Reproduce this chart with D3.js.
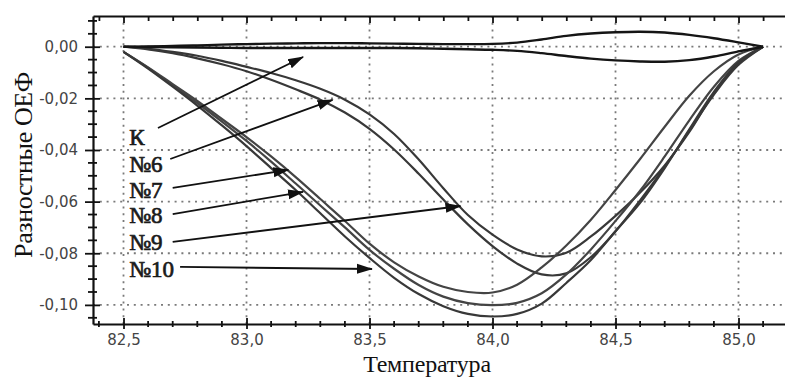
<!DOCTYPE html>
<html><head><meta charset="utf-8">
<script src="https://cdn.jsdelivr.net/npm/d3@7"></script>
<style>body{margin:0;background:#fff}svg{display:block}</style>
</head><body><svg id="chart" width="785" height="377"></svg>
<script>
// ---- DATA ----
const temps = [82.5,82.6,82.7,82.8,82.9,83.0,83.1,83.2,83.3,83.4,83.5,83.6,83.7,83.8,83.9,84.0,84.1,84.2,84.3,84.4,84.5,84.6,84.7,84.8,84.9,85.0,85.1];
const kUpper = [0,0.0001,0.0003,0.0005,0.0008,0.001,0.0012,0.0013,0.0014,0.0014,0.0013,0.0012,0.0011,0.001,0.001,0.0011,0.0016,0.0028,0.0042,0.0051,0.0056,0.0058,0.0055,0.0046,0.0033,0.0017,0];
const kLower = [0,-0.0001,-0.0002,-0.0003,-0.0004,-0.0005,-0.0005,-0.0005,-0.0005,-0.0005,-0.0005,-0.0005,-0.0006,-0.0008,-0.001,-0.0012,-0.0016,-0.0025,-0.0036,-0.0046,-0.0053,-0.0057,-0.0058,-0.0052,-0.0038,-0.0018,0];
const s6  = [0,-0.0008,-0.002,-0.0035,-0.0055,-0.0078,-0.0102,-0.013,-0.0163,-0.0205,-0.0262,-0.0338,-0.0437,-0.0548,-0.0652,-0.0728,-0.0785,-0.0812,-0.0798,-0.0735,-0.0655,-0.0565,-0.046,-0.033,-0.018,-0.0065,0];
const s9  = [0,-0.001,-0.0025,-0.0045,-0.0068,-0.0095,-0.0128,-0.0165,-0.0205,-0.0255,-0.0318,-0.0398,-0.0492,-0.0592,-0.0688,-0.0772,-0.084,-0.0882,-0.0878,-0.0815,-0.0715,-0.0595,-0.0465,-0.0325,-0.0185,-0.007,0];
const s7  = [-0.002,-0.008,-0.0145,-0.021,-0.028,-0.035,-0.0425,-0.0505,-0.059,-0.0675,-0.0763,-0.0835,-0.089,-0.093,-0.095,-0.0952,-0.0922,-0.0855,-0.077,-0.067,-0.0555,-0.0435,-0.031,-0.019,-0.0095,-0.003,0];
const s8  = [-0.002,-0.0082,-0.015,-0.0218,-0.029,-0.0365,-0.0445,-0.053,-0.0615,-0.07,-0.0787,-0.086,-0.0923,-0.0968,-0.0993,-0.1001,-0.0992,-0.0955,-0.0882,-0.0785,-0.0675,-0.0558,-0.0425,-0.0285,-0.0155,-0.0055,0];
const s10 = [-0.002,-0.0085,-0.0155,-0.0228,-0.0305,-0.0385,-0.047,-0.0555,-0.0645,-0.0735,-0.0818,-0.0895,-0.0958,-0.1005,-0.1035,-0.1045,-0.1035,-0.0995,-0.0915,-0.0826,-0.0715,-0.0605,-0.047,-0.032,-0.0175,-0.006,0];

const xMajor = [82.5,83.0,83.5,84.0,84.5,85.0];
const xLabels = ["82,5","83,0","83,5","84,0","84,5","85,0"];
const yMajor = [0,-0.02,-0.04,-0.06,-0.08,-0.10];
const yLabels = ["0,00","-0,02","-0,04","-0,06","-0,08","-0,10"];

const labelNames = ["К","№6","№7","№8","№9","№10"];
const labelT = [82.523,82.523,82.523,82.523,82.523,82.523];
const labelV = [-0.0381,-0.0485,-0.0586,-0.0682,-0.0787,-0.0892];
const arrowFrom = [[82.64,-0.0315],[82.69,-0.0435],[82.70,-0.0547],[82.70,-0.0648],[82.70,-0.0756],[82.73,-0.0853]];
const arrowTo = [[83.23,-0.004],[83.35,-0.0206],[83.17,-0.0477],[83.23,-0.0562],[83.87,-0.0617],[83.51,-0.0861]];

// ---- CHART ----
const SERIF = '"Liberation Serif"';
const SANS = '"DejaVu Sans"';
const svg = d3.select("#chart");
const x = d3.scaleLinear().domain([82.376, 85.189]).range([93, 785]);
const y = d3.scaleLinear().domain([-0.1074, 0.0119]).range([324, 16]);
const X0 = x.range()[0], X1 = x.range()[1], Y0 = y.range()[0], Y1 = y.range()[1];

const xMinor = d3.range(824, 852).map(d => d / 10);
const yMinor = d3.range(-21, 3).map(d => d * 0.005);
const isMajorX = d => xMajor.some(m => Math.abs(m - d) < 1e-6);
const isMajorY = d => yMajor.some(m => Math.abs(m - d) < 1e-6);

// grid
const grid = svg.append("g").attr("stroke", "#7a7a7a").attr("stroke-width", 1.8).attr("stroke-dasharray", "2,4.8");
grid.selectAll("line.v").data(xMajor).join("line").attr("class","v")
  .attr("x1", d => x(d)).attr("x2", d => x(d)).attr("y1", Y1).attr("y2", Y0);
grid.selectAll("line.h").data(yMajor).join("line").attr("class","h")
  .attr("y1", d => y(d)).attr("y2", d => y(d)).attr("x1", X0).attr("x2", X1);

// curves
const line = d3.line().x(d => x(d[0])).y(d => y(d[1])).curve(d3.curveCatmullRom.alpha(0.5));
const series = [
  {v: s6, c: "#383838", w: 2.2}, {v: s9, c: "#383838", w: 2.2},
  {v: s7, c: "#444", w: 2.2}, {v: s8, c: "#444", w: 2.2}, {v: s10, c: "#383838", w: 2.2},
  {v: kUpper, c: "#151515", w: 2.4}, {v: kLower, c: "#151515", w: 2.4}
];
svg.append("g").selectAll("path").data(series).join("path")
  .attr("fill", "none").attr("stroke", d => d.c).attr("stroke-width", d => d.w)
  .attr("d", d => line(temps.map((t, i) => [t, d.v[i]])));

// axes
const axisStyle = g => {
  g.attr("font-family", null);
  g.select(".domain").attr("stroke", "#111").attr("stroke-width", 2.2);
  g.selectAll(".tick line").attr("stroke", "#111").attr("stroke-width", 1.8);
  g.selectAll(".tick text").style("font-family", SANS).attr("font-size", 15).attr("fill", "#444");
};
const gx = svg.append("g").attr("transform", `translate(0,${Y0})`)
  .call(d3.axisBottom(x).tickValues(xMajor).tickFormat((d, i) => xLabels[i]).tickSizeOuter(0));
gx.selectAll(".tick line").attr("y1", -6).attr("y2", 5);
gx.selectAll(".tick text").attr("y", 10).attr("dy", "0.71em");
axisStyle(gx);
gx.selectAll("line.minor").data(xMinor.filter(d => !isMajorX(d))).join("line").attr("class","minor")
  .attr("x1", d => x(d)).attr("x2", d => x(d)).attr("y1", -3).attr("y2", 3).attr("stroke", "#111").attr("stroke-width", 1.8);

const gy = svg.append("g").attr("transform", `translate(${X0},0)`)
  .call(d3.axisLeft(y).tickValues(yMajor).tickFormat((d, i) => yLabels[i]).tickSizeOuter(0));
gy.selectAll(".tick line").attr("x1", -8).attr("x2", 7);
gy.selectAll(".tick text").attr("x", -15);
axisStyle(gy);
gy.selectAll("line.minor").data(yMinor.filter(d => !isMajorY(d))).join("line").attr("class","minor")
  .attr("y1", d => y(d)).attr("y2", d => y(d)).attr("x1", -5).attr("x2", 4).attr("stroke", "#111").attr("stroke-width", 1.8);

const gt = svg.append("g").attr("transform", `translate(0,${Y1})`)
  .call(d3.axisTop(x).tickValues(xMinor).tickFormat("").tickSizeOuter(0));
gt.selectAll(".tick line").attr("y1", 0).attr("y2", d => isMajorX(d) ? 7 : 5);
axisStyle(gt);

// annotations
svg.append("defs").append("marker").attr("id", "ah").attr("viewBox", "0 -6 16 12")
  .attr("refX", 15).attr("refY", 0).attr("markerWidth", 16).attr("markerHeight", 12)
  .attr("markerUnits", "userSpaceOnUse").attr("orient", "auto")
  .append("path").attr("d", "M0,-5L16,0L0,5Z").attr("fill", "#111");
svg.append("g").selectAll("line").data(arrowFrom).join("line")
  .attr("x1", d => x(d[0])).attr("y1", d => y(d[1]))
  .attr("x2", (d, i) => x(arrowTo[i][0])).attr("y2", (d, i) => y(arrowTo[i][1]))
  .attr("stroke", "#111").attr("stroke-width", 1.8).attr("marker-end", "url(#ah)");
svg.append("g").selectAll("text").data(labelNames).join("text")
  .style("font-family", SERIF)
  .attr("x", (d, i) => x(labelT[i])).attr("y", (d, i) => y(labelV[i]))
  .attr("font-size", 23).attr("fill", "#1a1a1a").attr("stroke", "#1a1a1a").attr("stroke-width", 0.7)
  .text(d => d);

// axis titles
svg.append("text").style("font-family", SERIF).attr("transform", "translate(32,165) rotate(-90)").attr("text-anchor", "middle")
  .attr("font-size", 26).attr("fill", "#111").attr("letter-spacing", -0.4).text("Разностные ОЕФ");
svg.append("text").style("font-family", SERIF).attr("x", 427).attr("y", 371.5).attr("text-anchor", "middle")
  .attr("font-size", 24).attr("fill", "#111").attr("letter-spacing", -0.2).text("Температура");
</script></body></html>
